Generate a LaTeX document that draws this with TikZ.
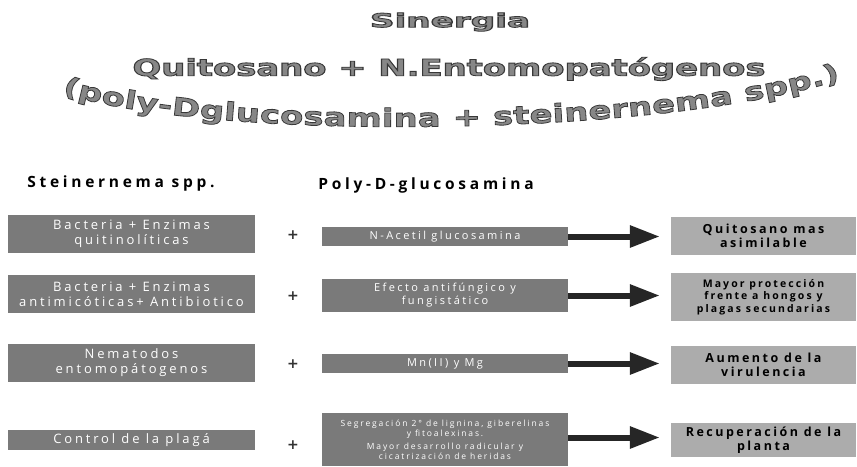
\documentclass[tikz,border=0pt]{standalone}
\usepackage{fontspec}
\usepackage{graphicx}
\usetikzlibrary{arrows.meta,decorations.text}
\newfontfamily\wordart{DejaVu Sans}
\newfontfamily\wordartc[FakeStretch=1.35]{DejaVu Sans}
\newfontfamily\boxfont[LetterSpace=22]{Open Sans}
\newfontfamily\rboxfont[LetterSpace=20]{Open Sans}
\newfontfamily\headfont[LetterSpace=24]{Open Sans}
\newfontfamily\plusfont{DejaVu Sans}
\newcommand\outon{\special{pdf:literal direct 2 Tr 0.8 w 0.22 0.22 0.22 RG}}
\definecolor{lboxc}{RGB}{122,122,122}
\definecolor{rboxc}{RGB}{172,172,172}
\definecolor{wac}{RGB}{135,135,135}
\tikzset{
  lbox/.style={fill=lboxc, text=white, minimum width=247pt, minimum height=38pt, align=center, inner sep=1pt, font={\boxfont\fontsize{13}{15}\selectfont}},
  mbox/.style={fill=lboxc, text=white, minimum width=246pt, align=center, inner sep=1pt, font={\boxfont\fontsize{11}{13}\selectfont}},
  rbox/.style={fill=rboxc, text=black, minimum width=185pt, align=center, inner sep=1pt, font={\rboxfont\bfseries\fontsize{12.5}{14.5}\selectfont}},
  plus/.style={text=black!80, font={\plusfont\bfseries\fontsize{14}{15}\selectfont}},
  head/.style={text=black, font={\headfont\bfseries\fontsize{15.5}{17}\selectfont}},
  wart/.style={text=wac, inner sep=0pt},
  arr/.style={draw=black!85, line width=6pt, -{Triangle[length=30pt,width=21pt]}, shorten >=11pt}
}
\begin{document}
\begin{tikzpicture}[x=1pt,y=1pt]
\useasboundingbox (0,0) rectangle (857,-466);
\fill[white] (0,0) rectangle (857,-466);
% headings
\node[head] (h1) at (121,-183) {Steinernema spp.};
\node[head] (h2) at (426,-185) {Poly-D-glucosamina};
% left boxes
\node[lbox] (l1) at (131.5,-234) {Bacteria + Enzimas\\quitinolíticas};
\node[lbox] (l2) at (131.5,-294) {Bacteria + Enzimas\\antimicóticas+ Antibiotico};
\node[lbox] (l3) at (131.5,-362.5) {Nematodos\\entomopátogenos};
\node[lbox, minimum height=20pt] (l4) at (131.5,-440) {Control de la plagá};
% plus
\node[plus] (p1) at (293,-235) {+};
\node[plus] (p2) at (293,-296) {+};
\node[plus] (p3) at (293,-364) {+};
\node[plus] (p4) at (293,-445) {+};
% middle boxes
\node[mbox, minimum height=19pt] (m1) at (445,-236.5) {N-Acetil glucosamina};
\node[mbox, minimum height=33pt] (m2) at (445,-295.5) {Efecto antifúngico y\\fungistático};
\node[mbox, minimum height=19pt] (m3) at (445,-363.5) {Mn(II) y Mg};
\node[mbox, minimum height=53pt, font={\boxfont\fontsize{8.5}{10}\selectfont}] (m4) at (445,-439.5) {Segregación 2° de lignina, giberelinas\\y fitoalexinas.\\[3pt]Mayor desarrollo radicular y\\cicatrización de heridas};
% right boxes
\node[rbox, minimum height=38pt] (r1) at (763.5,-236) {Quitosano mas\\asimilable};
\node[rbox, minimum height=48pt, font={\rboxfont\bfseries\fontsize{10.5}{12.5}\selectfont}] (r2) at (763.5,-297) {Mayor protección\\frente a hongos y\\plagas secundarias};
\node[rbox, minimum height=38pt] (r3) at (763.5,-365) {Aumento de la\\virulencia};
\node[rbox, minimum height=34pt] (r4) at (763.5,-440) {Recuperación de la\\planta};
% arrows
\draw[arr] (m1.east) -- (m1.east -| r1.west);
\draw[arr] (m2.east) -- (m2.east -| r2.west);
\draw[arr] (m3.east) -- (m3.east -| r3.west);
\draw[arr] (m4.east) ++(0,2) coordinate (a4) -- (a4 -| r4.west);
% titles
\node[wart] (t1) at (450,-22) {\outon\scalebox{1.8}[1]{\wordart\bfseries\fontsize{19}{20}\selectfont Sinergia}};
\node[wart] (t2) at (449,-69) {\outon\scalebox{1.47}[1]{\wordart\bfseries\fontsize{23}{24}\selectfont Quitosano + N.Entomopatógenos}};
\path[decorate, decoration={text along path, text color=wac,
  text={|\wordartc\bfseries\fontsize{25}{27}\selectfont\outon|(poly-Dglucosamina + steinernema spp.)},
  text align={fit to path}}]
  (62,-93) .. controls (200,-140) and (645,-140) .. (840,-80);
\end{tikzpicture}
\end{document}
